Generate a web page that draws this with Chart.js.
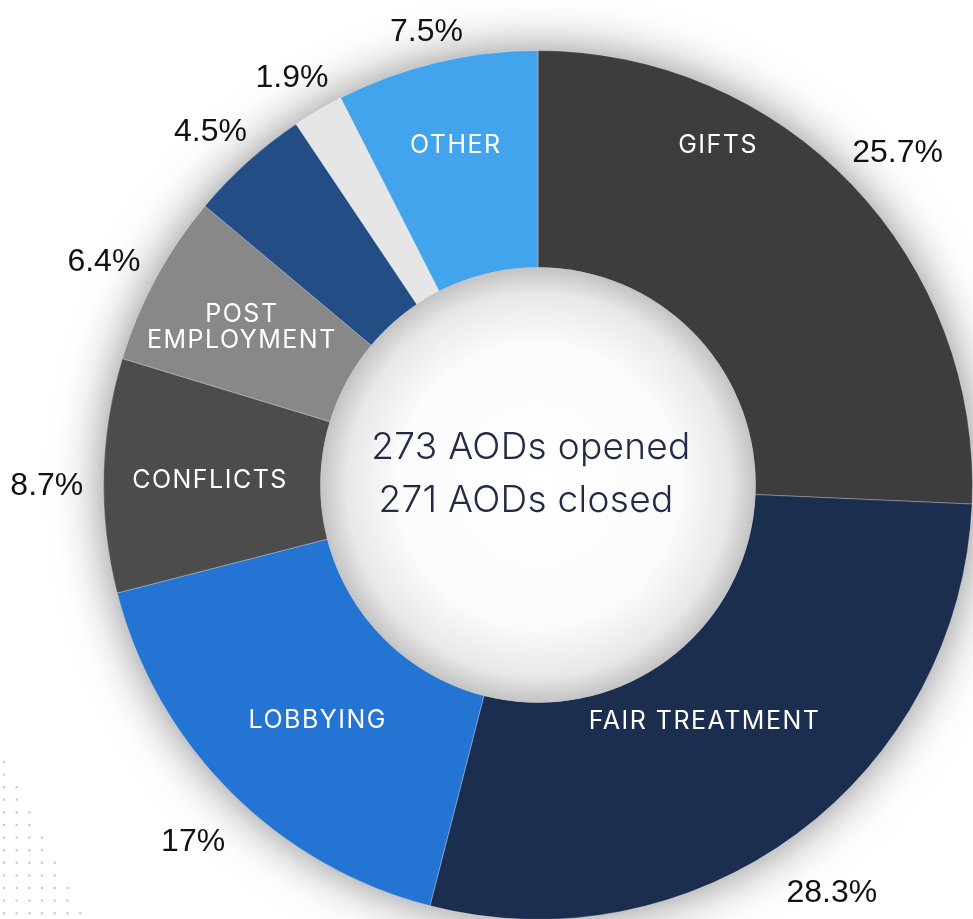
<!DOCTYPE html>
<html>
<head>
<meta charset="utf-8">
<script src="https://cdn.jsdelivr.net/npm/chart.js@4/dist/chart.umd.min.js"></script>
<style>
  html, body { margin: 0; padding: 0; background: #fff; overflow: hidden; }
  #wrap { position: absolute; left: 0; top: 0; width: 1076px; height: 970px; }
</style>
</head>
<body>
<div id="wrap"><canvas id="chart"></canvas></div>
<script>
/* ---------- Dados ---------- */
const CATEGORIAS = ["GIFTS", "FAIR TREATMENT", "LOBBYING", "CONFLICTS", ["POST", "EMPLOYMENT"], "", "", "OTHER"];
const PERCENTUAIS = [25.7, 28.3, 17, 8.7, 6.4, 4.5, 1.9, 7.5];
const CORES = ["#3d3d3d", "#1b2e50", "#2474d3", "#4c4c4c", "#888888", "#224e85", "#e6e6e6", "#42a4ec"];
const TEXTO_CENTRO = ["273 AODs opened", "271 AODs closed"];

// posição dos rótulos internos: fração do arco (f) e fração radial do anel (r)
const POS_ROTULO = [
  { f: 0.3, r: 0.78 },
  { f: 0.51, r: 0.32 },
  { f: 0.474, r: 0.475 },
  { f: 0.5, r: 0.51 },
  { f: 0.5, r: 0.55 },
  { f: 0.5, r: 0.5 },
  { f: 0.5, r: 0.5 },
  { f: 0.5, r: 0.62 },
];

const FONTE_ROTULO = "25px Inter, 'Open Sans', sans-serif";
const FONTE_PCT = "32px 'Liberation Sans', Arial, sans-serif";
const FONTE_CENTRO = "300 37px Inter, 'Open Sans', sans-serif";

/* ---------- Plugin: sombra, centro e rótulos ---------- */
const decoracao = {
  id: "decoracao",
  beforeDraw(chart) {
    // pontinhos decorativos no canto inferior esquerdo
    const ctx = chart.ctx;
    ctx.save();
    ctx.fillStyle = "rgba(160,162,182,0.6)";
    for (let i = 0; i < 13; i++) {
      const cols = Math.floor(i / 2) + 1;
      for (let j = 0; j < cols; j++) {
        ctx.beginPath();
        ctx.arc(4 + j * 12.7, 762 + i * 12.6, 1.2, 0, Math.PI * 2);
        ctx.fill();
      }
    }
    ctx.restore();
  },
  beforeDatasetsDraw(chart) {
    const ctx = chart.ctx;
    const a = chart.getDatasetMeta(0).data[0];
    ctx.save();
    ctx.shadowColor = "rgba(0,0,0,0.5)";
    ctx.shadowBlur = 50;
    ctx.beginPath();
    ctx.arc(a.x, a.y, a.outerRadius - 2, 0, Math.PI * 2);
    ctx.fillStyle = "#777";
    ctx.fill();
    ctx.restore();
  },
  afterDatasetsDraw(chart) {
    const ctx = chart.ctx;
    const meta = chart.getDatasetMeta(0);
    const a0 = meta.data[0];
    const cx = a0.x, cy = a0.y, rIn = a0.innerRadius, rOut = a0.outerRadius;

    // miolo com gradiente (efeito de sombra interna)
    ctx.save();
    const g = ctx.createRadialGradient(cx, cy, 0, cx, cy, rIn);
    g.addColorStop(0, "#ffffff");
    g.addColorStop(0.65, "#fbfbfb");
    g.addColorStop(0.88, "#e8e8e8");
    g.addColorStop(1, "#c4c4c4");
    ctx.beginPath();
    ctx.arc(cx, cy, rIn + 0.5, 0, Math.PI * 2);
    ctx.fillStyle = g;
    ctx.fill();

    // texto central
    ctx.fillStyle = "#222b45";
    ctx.font = FONTE_CENTRO;
    ctx.letterSpacing = "0.3px";
    ctx.textAlign = "center";
    ctx.textBaseline = "middle";
    ctx.fillText(TEXTO_CENTRO[0], cx - 7, cy - 37);
    ctx.fillText(TEXTO_CENTRO[1], cx - 12, cy + 16);

    // rótulos internos e percentuais externos
    meta.data.forEach((arc, i) => {
      const p = POS_ROTULO[i];
      const ang = arc.startAngle + (arc.endAngle - arc.startAngle) * p.f;
      const rr = rIn + (rOut - rIn) * p.r;
      const lab = CATEGORIAS[i];
      ctx.fillStyle = "#ffffff";
      ctx.font = FONTE_ROTULO;
      ctx.letterSpacing = "1.5px";
      const linhas = Array.isArray(lab) ? lab : [lab];
      linhas.forEach((t, k) => {
        const dy = (k - (linhas.length - 1) / 2) * 26 + 3;
        ctx.fillText(t, cx + Math.cos(ang) * rr, cy + Math.sin(ang) * rr + dy);
      });

      const mid = (arc.startAngle + arc.endAngle) / 2;
      const txt = PERCENTUAIS[i] + "%";
      ctx.fillStyle = "#111111";
      ctx.font = FONTE_PCT;
      ctx.letterSpacing = "0px";
      const w = ctx.measureText(txt).width;
      const rp = rOut + 20 + Math.abs(Math.cos(mid)) * w / 2 + Math.abs(Math.sin(mid)) * 15;
      ctx.fillText(txt, cx + Math.cos(mid) * rp, cy + Math.sin(mid) * rp + 12);
    });
    ctx.restore();
  },
};

/* ---------- Gráfico ---------- */
new Chart(document.getElementById("chart"), {
  type: "doughnut",
  data: {
    labels: CATEGORIAS.map((c) => (Array.isArray(c) ? c.join(" ") : c)),
    datasets: [{
      data: PERCENTUAIS,
      backgroundColor: CORES,
      borderColor: "rgba(255,255,255,0.3)",
      borderWidth: 1,
    }],
  },
  options: {
    responsive: true,
    maintainAspectRatio: false,
    animation: false,
    cutout: "50%",
    layout: { padding: { top: 50, bottom: 50, left: 103, right: 103 } },
    plugins: { legend: { display: false }, tooltip: { enabled: false } },
  },
  plugins: [decoracao],
});
</script>
</body>
</html>
